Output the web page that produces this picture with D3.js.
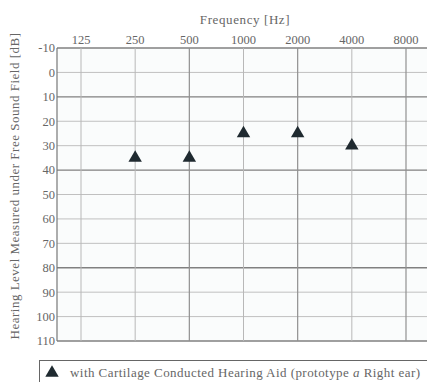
<!DOCTYPE html>
<html><head><meta charset="utf-8">
<script src="https://cdn.jsdelivr.net/npm/d3@7"></script>
<style>
body{margin:0;background:#fff;}
svg{display:block;font-family:"Liberation Serif","DejaVu Serif",serif;}
</style></head>
<body><svg id="c" width="427" height="382"></svg>
<script>
const freqs = [125, 250, 500, 1000, 2000, 4000, 8000];
const dbTicks = [-10, 0, 10, 20, 30, 40, 50, 60, 70, 80, 90, 100, 110];
const majorDb = [-10, 10, 40, 80, 110];
const majorFreq = [500, 2000, 8000];
const pointFreqs = [250, 500, 1000, 2000, 4000];
const pointDb = [35, 35, 25, 25, 30];
const xTitle = "Frequency [Hz]";
const yTitle = "Hearing Level Measured under Free Sound Field [dB]";
const legendLabel = "with Cartilage Conducted Hearing Aid (prototype ";
const legendItalic = "a";
const legendTail = " Right ear)";

const svg = d3.select("#c");
const L = 57, T = 48, B = 341, R = 440;
const x = d3.scaleLog().base(2).domain([125, 8000]).range([81, 406]);
const y = d3.scaleLinear().domain([-10, 110]).range([T, B]);
const txt = "#666";

svg.append("rect").attr("x", L).attr("y", T).attr("width", R - L).attr("height", B - T).attr("fill", "#fafcfc");

// horizontal grid
svg.append("g").selectAll("line").data(dbTicks).join("line")
  .attr("x1", L).attr("x2", R).attr("y1", d => y(d)).attr("y2", d => y(d))
  .attr("stroke", d => majorDb.includes(d) ? "#808080" : "#c0c0c0")
  .attr("stroke-width", d => majorDb.includes(d) ? 1.3 : 1);
// vertical grid
svg.append("g").selectAll("line").data(freqs).join("line")
  .attr("y1", T).attr("y2", B).attr("x1", d => x(d)).attr("x2", d => x(d))
  .attr("stroke", d => majorFreq.includes(d) ? "#909090" : "#b8b8b8")
  .attr("stroke-width", d => majorFreq.includes(d) ? 1.2 : 1);
// left border
svg.append("line").attr("x1", L).attr("x2", L).attr("y1", T).attr("y2", B).attr("stroke", "#777").attr("stroke-width", 1.2);

// y tick labels
svg.append("g").selectAll("text").data(dbTicks).join("text")
  .attr("x", L - 2).attr("y", d => y(d)).attr("dy", "0.35em")
  .attr("text-anchor", "end").attr("font-size", 12.5).attr("fill", txt)
  .text(d => d);
// x tick labels
svg.append("g").selectAll("text").data(freqs).join("text")
  .attr("x", d => x(d)).attr("y", 44)
  .attr("text-anchor", "middle").attr("font-size", 12.5).attr("fill", txt)
  .text(d => d);

svg.append("text").attr("x", 245).attr("y", 24).attr("text-anchor", "middle")
  .attr("font-size", 13).attr("letter-spacing", 0.6).attr("fill", txt).text(xTitle);
svg.append("text").attr("transform", "translate(19,186) rotate(-90)")
  .attr("text-anchor", "middle").attr("font-size", 13).attr("letter-spacing", 0.5).attr("fill", txt).text(yTitle);

// markers
const tri = d3.symbol().type(d3.symbolTriangle).size(78);
svg.append("g").selectAll("path").data(pointFreqs).join("path")
  .attr("d", tri)
  .attr("transform", (d, i) => `translate(${x(d)},${y(pointDb[i])})`)
  .attr("fill", "#1f2a30");

// legend
svg.append("rect").attr("x", 39.5).attr("y", 360.5).attr("width", 400).attr("height", 30)
  .attr("fill", "#fff").attr("stroke", "#666").attr("stroke-width", 1);
svg.append("path").attr("d", tri).attr("transform", "translate(52,373)").attr("fill", "#1f2a30");
const lt = svg.append("text").attr("x", 70).attr("y", 377).attr("font-size", 13).attr("letter-spacing", 0.45).attr("fill", txt);
lt.append("tspan").text(legendLabel);
lt.append("tspan").attr("font-style", "italic").text(legendItalic);
lt.append("tspan").text(legendTail);
</script></body></html>
